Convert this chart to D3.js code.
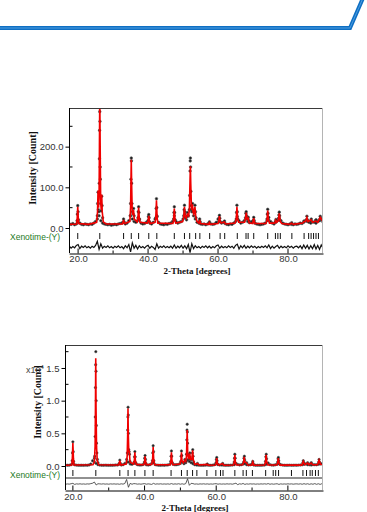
<!DOCTYPE html>
<html>
<head>
<meta charset="utf-8">
<script src="https://cdn.jsdelivr.net/npm/d3@7"></script>
<style>
  body { margin: 0; background: #fff; }
  svg { display: block; }
</style>
</head>
<body>
<div id="container"></div>
<script>
// ---- chart values ----
const phaseName = "Xenotime-(Y)";
const xTicks = [20, 40, 60, 80];
const xMinorTicks = [30, 50, 70, 90];
const topYTicks = [0, 100, 200];
const topYMinor = [50, 150, 250];
const botYTicks = [0, 0.5, 1.0, 1.5];
const botYMinor = [0.25, 0.75, 1.25, 1.75];

// background counts and difference are on a regular 2-theta grid
const gridStart = 17.5;
const gridStep = 0.5;

// top pattern, counts
const topBg = [
  10, 9, 11, 8, 10, 14, 12, 9, 8, 10,
  9, 8, 10, 9, 12, 16, 22, 30, 18, 12,
  10, 9, 8, 9, 7, 8, 9, 8, 10, 11,
  12, 15, 10, 12, 18, 30, 22, 16, 14, 18,
  20, 12, 10, 11, 14, 18, 12, 10, 14, 22,
  30, 14, 10, 9, 8, 10, 9, 11, 12, 16,
  30, 16, 12, 14, 16, 22, 34, 20, 30, 45,
  40, 30, 22, 14, 12, 10, 9, 10, 8, 10,
  12, 10, 9, 10, 14, 22, 16, 12, 14, 11,
  9, 8, 10, 9, 12, 16, 28, 18, 12, 14,
  18, 22, 16, 13, 15, 18, 12, 10, 9, 8,
  9, 10, 12, 18, 26, 16, 12, 10, 14, 18,
  24, 18, 12, 10, 9, 8, 10, 9, 8, 10,
  9, 10, 12, 11, 14, 18, 16, 14, 12, 15,
  14, 12, 16, 18, 20, 15
];
const topPeaks = [
  [19.7, 18], [19.8, 34], [19.9, 55], [20.0, 40], [20.1, 20],
  [25.5, 30], [25.6, 60], [25.7, 88], [25.8, 45], [25.95, 40], [26.05, 110], [26.1, 170],
  [26.15, 240], [26.2, 286], [26.25, 262], [26.3, 150], [26.35, 120], [26.45, 60],
  [26.6, 42], [26.75, 78], [26.85, 55], [27.0, 25],
  [32.85, 14], [33.0, 22], [33.15, 15],
  [34.9, 30], [35.0, 60], [35.1, 120], [35.2, 172], [35.25, 165], [35.3, 110], [35.4, 60], [35.5, 40],
  [35.7, 35], [35.85, 48], [36.0, 30],
  [37.1, 25], [37.2, 40], [37.3, 52], [37.4, 38], [37.55, 22],
  [40.0, 18], [40.1, 28], [40.2, 33], [40.3, 25], [40.45, 15],
  [42.2, 25], [42.3, 48], [42.4, 72], [42.5, 50], [42.6, 28],
  [47.3, 22], [47.4, 38], [47.5, 52], [47.6, 38], [47.75, 20],
  [50.2, 30], [50.3, 45], [50.4, 56], [50.5, 40], [50.65, 25],
  [51.1, 28], [51.25, 38], [51.4, 30],
  [51.8, 45], [51.9, 80], [52.0, 140], [52.05, 165], [52.1, 172], [52.15, 150], [52.25, 90], [52.35, 55],
  [52.6, 45], [52.7, 60], [52.85, 40],
  [53.25, 38], [53.4, 56], [53.55, 40], [53.7, 25],
  [54.6, 16], [54.75, 22], [54.9, 15],
  [57.4, 12], [57.55, 15],
  [60.2, 16], [60.3, 24], [60.4, 31], [60.5, 24], [60.65, 15],
  [61.7, 14], [61.85, 17],
  [65.2, 22], [65.3, 38], [65.4, 56], [65.5, 40], [65.65, 22],
  [67.85, 25], [67.95, 36], [68.05, 40], [68.15, 30],
  [68.5, 22], [68.65, 26], [68.8, 18],
  [70.05, 18], [70.2, 26], [70.35, 18],
  [74.0, 22], [74.1, 34], [74.2, 46], [74.3, 36], [74.45, 20],
  [76.4, 16], [76.55, 21],
  [77.3, 24], [77.4, 32], [77.5, 39], [77.6, 30], [77.75, 18],
  [81.05, 13], [84.55, 17],
  [85.25, 20], [85.4, 29], [85.55, 20],
  [86.5, 18], [86.65, 22], [87.9, 19], [88.05, 20],
  [89.1, 22], [89.2, 29], [89.35, 24]
];
const topCalc = [
  [17.5, 9], [19.6, 10], [19.75, 25], [19.9, 52], [20.05, 25], [20.2, 11],
  [23, 9], [25.3, 14], [25.55, 40], [25.7, 92], [25.85, 50], [26.0, 80], [26.1, 200],
  [26.2, 330], [26.3, 210], [26.45, 70], [26.6, 45], [26.75, 82], [26.9, 40], [27.2, 15],
  [28, 10], [32.7, 10], [32.85, 14], [33.0, 20], [33.15, 13], [33.4, 11],
  [34.8, 16], [35.0, 50], [35.1, 110], [35.2, 168], [35.3, 110], [35.45, 50], [35.6, 32], [35.85, 44], [36.05, 22],
  [36.9, 15], [37.1, 25], [37.3, 50], [37.5, 24], [37.7, 14],
  [39.8, 12], [40.0, 17], [40.2, 30], [40.4, 16], [40.6, 11],
  [42.0, 14], [42.2, 24], [42.4, 68], [42.6, 24], [42.8, 12],
  [47.1, 11], [47.3, 20], [47.5, 48], [47.7, 20], [47.9, 12],
  [49.9, 16], [50.2, 28], [50.4, 52], [50.6, 28], [50.9, 24], [51.25, 34], [51.6, 30], [51.8, 45],
  [52.0, 120], [52.1, 152], [52.2, 110], [52.4, 50], [52.55, 45], [52.7, 58], [52.85, 40], [53.05, 35],
  [53.4, 52], [53.65, 26], [54.0, 16],
  [54.5, 12], [54.75, 20], [55.0, 11],
  [57.3, 9], [57.5, 13], [57.7, 9],
  [60.0, 11], [60.2, 16], [60.4, 29], [60.6, 16], [60.9, 12], [61.8, 15], [62.1, 10],
  [64.9, 12], [65.2, 22], [65.4, 52], [65.6, 22], [65.9, 14],
  [67.6, 14], [67.85, 24], [68.05, 38], [68.3, 22], [68.6, 24], [68.9, 13],
  [69.9, 11], [70.2, 24], [70.5, 11],
  [73.7, 11], [74.0, 20], [74.2, 43], [74.4, 20], [74.7, 12],
  [76.2, 12], [76.5, 19], [76.8, 14], [77.2, 18], [77.5, 36], [77.8, 16], [78.2, 11],
  [80.5, 9], [81.0, 12], [81.5, 9],
  [84.2, 12], [84.55, 16], [85.0, 16], [85.4, 26], [85.7, 16], [86.6, 20], [87.0, 14],
  [88.0, 17], [88.5, 14], [89.2, 26], [90, 16]
];
const topHkl = [19.9, 26.2, 33.0, 35.2, 37.3, 40.2, 42.5, 47.5, 50.4, 51.9, 53.6, 54.8, 57.6,
  60.6, 61.9, 65.5, 68.0, 68.6, 70.2, 74.2, 76.4, 77.1, 77.8, 81.1, 84.6, 85.9, 86.6, 87.3, 88.0, 88.7];
const topDiff = [
  2, -3, 1, -2, 4, 6, -4, 2, -1, 3,
  -2, 1, -3, 2, -1, 4, 14, -6, 8, -3,
  2, -1, 3, -2, 1, -3, 2, -1, 3, -2,
  1, -4, 3, -2, 6, -12, 10, -3, 4, -5,
  3, -2, 1, -3, 2, 4, -3, 2, -1, -6,
  8, -3, 2, -1, 3, -2, 1, -2, 2, -3,
  5, -3, 2, -2, 4, -3, 3, -4, 6, -14,
  8, -4, 3, -2, 1, -3, 2, -1, 3, -2,
  2, -3, 1, -2, 3, 5, -3, 2, -2, 1,
  -2, 3, -1, 2, -3, 4, 7, -5, 3, -2,
  4, -3, 2, -2, 3, -1, 2, -3, 1, -2,
  2, -1, 3, -2, 5, -4, 2, -3, 1, 4,
  -3, 2, -2, 1, -2, 3, -1, 2, -3, 1,
  2, -2, 3, -4, 5, -3, 4, -5, 3, -4,
  6, -5, 4, -6, 5, -3
];

// bottom pattern, counts x10^4
const botBg = [
  .012, .014, .011, .013, .02, .04, .018, .013, .012, .011,
  .012, .01, .013, .012, .016, .03, .08, .12, .04, .02,
  .014, .012, .011, .013, .012, .01, .012, .011, .013, .015,
  .016, .03, .015, .02, .04, .1, .06, .03, .025, .04,
  .04, .02, .015, .014, .02, .04, .018, .014, .02, .04,
  .05, .02, .014, .012, .011, .013, .012, .014, .016, .025,
  .05, .025, .018, .02, .025, .04, .06, .035, .05, .09,
  .07, .05, .035, .02, .015, .013, .012, .011, .012, .013,
  .015, .012, .011, .013, .02, .035, .02, .014, .016, .013,
  .011, .012, .011, .013, .015, .02, .04, .025, .016, .02,
  .03, .035, .02, .016, .018, .025, .014, .012, .011, .012,
  .012, .013, .015, .025, .045, .02, .014, .013, .018, .025,
  .04, .02, .014, .012, .011, .012, .013, .011, .012, .013,
  .012, .014, .016, .018, .025, .03, .02, .018, .015, .02,
  .02, .018, .025, .03, .035, .02
];
const botPeaks = [
  [19.8, .08], [19.9, .2], [20.0, .37], [20.1, .22], [20.2, .07],
  [26.0, .06], [26.1, .15], [26.2, .45], [26.25, .75], [26.3, 1.2], [26.35, 1.55], [26.4, 1.75],
  [26.45, 1.45], [26.5, 1.0], [26.55, .62], [26.6, .35], [26.7, .2], [26.85, .1], [27.0, .05],
  [32.95, .04], [33.1, .09], [33.25, .04],
  [35.1, .06], [35.2, .2], [35.3, .55], [35.35, .75], [35.4, .9], [35.45, .78], [35.5, .5],
  [35.6, .25], [35.7, .22], [35.8, .18], [35.95, .07],
  [37.1, .06], [37.2, .14], [37.3, .22], [37.4, .14], [37.55, .05],
  [39.95, .06], [40.05, .12], [40.15, .16], [40.25, .1], [40.4, .04],
  [42.2, .08], [42.3, .2], [42.4, .31], [42.5, .22], [42.6, .08],
  [47.3, .07], [47.4, .15], [47.5, .23], [47.6, .15], [47.75, .05],
  [50.1, .07], [50.2, .15], [50.3, .23], [50.4, .16], [50.55, .06],
  [51.1, .06], [51.25, .1], [51.4, .06],
  [51.6, .07], [51.7, .18], [51.8, .4], [51.85, .55], [51.9, .64], [51.95, .52], [52.0, .35], [52.1, .18], [52.25, .1],
  [52.5, .12], [52.65, .2], [52.8, .1],
  [53.25, .1], [53.35, .2], [53.45, .25], [53.55, .15], [53.7, .06],
  [54.75, .04], [57.5, .03],
  [59.95, .05], [60.05, .1], [60.15, .13], [60.25, .08], [60.4, .03],
  [61.8, .04],
  [65.0, .06], [65.1, .12], [65.2, .18], [65.3, .12], [65.45, .04],
  [67.65, .06], [67.75, .12], [67.85, .15], [67.95, .09], [68.1, .04], [68.5, .05],
  [70.1, .04], [70.2, .07], [70.3, .04],
  [73.75, .07], [73.85, .14], [73.95, .18], [74.05, .11], [74.2, .04],
  [77.15, .06], [77.25, .11], [77.35, .13], [77.45, .08], [77.6, .03],
  [84.2, .05], [84.3, .08], [84.45, .05], [85.5, .05], [86.4, .04], [86.55, .05],
  [88.6, .06], [88.7, .1], [88.8, .06]
];
const botCalc = [
  [17.5, .012], [19.7, .015], [19.85, .12], [20.0, .35], [20.15, .12], [20.3, .015],
  [25.6, .02], [26.0, .06], [26.2, .3], [26.3, .9], [26.38, 1.65], [26.46, .9], [26.6, .3], [26.8, .08], [27.2, .02],
  [32.8, .015], [33.1, .08], [33.4, .015],
  [34.9, .03], [35.15, .15], [35.3, .5], [35.38, .88], [35.46, .5], [35.6, .22], [35.75, .22], [35.95, .06],
  [36.9, .03], [37.15, .08], [37.3, .21], [37.45, .08], [37.7, .025],
  [39.8, .02], [40.0, .06], [40.15, .15], [40.3, .06], [40.5, .02],
  [42.0, .025], [42.25, .1], [42.4, .29], [42.55, .1], [42.8, .02],
  [47.2, .02], [47.35, .08], [47.5, .21], [47.65, .08], [47.9, .02],
  [49.9, .03], [50.15, .08], [50.3, .21], [50.45, .08], [50.8, .05], [51.25, .09], [51.5, .07],
  [51.7, .15], [51.9, .55], [52.05, .18], [52.3, .1], [52.62, .19], [52.85, .1], [53.2, .1],
  [53.42, .24], [53.6, .1], [54.0, .025],
  [54.8, .035], [55.2, .015], [57.5, .025], [57.8, .012],
  [59.8, .015], [60.0, .05], [60.13, .12], [60.3, .05], [60.6, .015], [61.8, .035], [62.1, .012],
  [64.8, .015], [65.05, .06], [65.2, .17], [65.35, .06], [65.6, .016],
  [67.4, .02], [67.65, .06], [67.8, .14], [67.98, .06], [68.5, .045], [68.8, .015],
  [69.9, .012], [70.2, .06], [70.5, .012],
  [73.5, .015], [73.75, .06], [73.92, .17], [74.1, .06], [74.4, .015],
  [76.9, .015], [77.15, .05], [77.32, .12], [77.5, .05], [77.8, .013],
  [83.9, .013], [84.3, .07], [84.7, .02], [85.5, .045], [85.8, .02], [86.5, .045], [86.9, .02],
  [88.3, .02], [88.7, .09], [89.1, .025], [90, .02]
];
const botHkl = [20.0, 26.4, 33.1, 35.4, 37.3, 40.1, 42.4, 47.4, 50.3, 51.9, 53.4, 54.6, 57.4,
  59.9, 61.2, 61.9, 65.2, 67.5, 68.4, 70.1, 73.8, 75.9, 76.6, 77.4, 81.0, 84.2, 85.2, 86.2, 86.8, 87.7, 88.5];
const botDiff = [
  .002, -.003, .001, -.002, .004, .01, -.006, .002, -.001, .003,
  -.002, .001, -.003, .002, -.001, .006, .012, .03, -.015, .004,
  .002, -.001, .003, -.002, .001, -.003, .002, -.001, .002, -.002,
  .001, -.004, .003, -.002, .008, .07, -.05, .01, -.004, .006,
  .004, -.002, .001, -.003, .002, .006, -.003, .002, -.001, -.006,
  .01, -.003, .002, -.001, .003, -.002, .001, -.002, .002, -.003,
  .006, -.003, .002, -.002, .004, -.003, .003, -.004, .006, .08,
  -.02, .01, .006, -.002, .001, -.003, .002, -.001, .003, -.002,
  .002, -.003, .001, -.002, .003, .005, -.003, .002, -.002, .001,
  -.002, .003, -.001, .002, -.003, .004, .012, -.01, .003, -.002,
  .008, -.006, .002, -.002, .003, -.001, .002, -.003, .001, -.002,
  .002, -.001, .003, -.002, .006, -.004, .002, -.003, .001, .004,
  -.006, .002, -.002, .001, -.002, .003, -.001, .002, -.003, .001,
  .002, -.002, .003, -.004, .005, -.003, .004, -.005, .003, -.004,
  .006, -.005, .004, -.006, .005, -.003
];

const width = 367;
const height = 512;
const sansFont = "'Liberation Sans', Arial, sans-serif";
const serifFont = "'Liberation Serif', 'Times New Roman', serif";

const svg = d3.select("#container")
  .append("svg")
  .attr("width", width)
  .attr("height", height);

// blue header rule with the slanted end
function drawHeader() {
  const path = d3.path();
  path.moveTo(0, 28);
  path.lineTo(350, 28);
  path.lineTo(363, -2);
  svg.append("path")
    .attr("d", path.toString())
    .attr("fill", "none")
    .attr("stroke", "#0f6fc3")
    .attr("stroke-width", 4);
  svg.append("path")
    .attr("d", path.toString())
    .attr("fill", "none")
    .attr("stroke", "#5aa8e8")
    .attr("stroke-width", 0.8);
}

function gridPairs(values) {
  return values.map((v, i) => [gridStart + i * gridStep, v]);
}

/**
 * One refinement panel: observed dots, calculated line, reflection ticks and difference.
 */
function drawPanel(id, cfg, data) {
  const g = svg.append("g");

  const x = d3.scaleLinear().domain(cfg.xDomain).range([cfg.left, cfg.right]);
  const y = d3.scaleLinear().domain([0, cfg.yMax]).range([cfg.base, cfg.top]);

  g.append("clipPath").attr("id", id + "-clip")
    .append("rect")
    .attr("x", cfg.left).attr("y", cfg.top)
    .attr("width", cfg.right - cfg.left).attr("height", cfg.base + 3 - cfg.top);
  g.append("clipPath").attr("id", id + "-clipx")
    .append("rect")
    .attr("x", cfg.left).attr("y", cfg.top)
    .attr("width", cfg.right - cfg.left).attr("height", cfg.axisY - cfg.top);

  // observed points
  const obs = gridPairs(data.bg).concat(data.peaks);
  g.append("g")
    .attr("clip-path", `url(#${id}-clip)`)
    .selectAll("circle")
    .data(obs)
    .join("circle")
      .attr("cx", d => x(d[0]))
      .attr("cy", d => y(d[1]))
      .attr("r", cfg.dotR)
      .attr("fill", "#1a1a1a")
      .attr("stroke", "#555")
      .attr("stroke-width", 0.6);

  // calculated profile
  g.append("path")
    .datum(data.calc)
    .attr("clip-path", `url(#${id}-clip)`)
    .attr("d", d3.line().x(d => x(d[0])).y(d => y(d[1])))
    .attr("fill", "none")
    .attr("stroke", "#f00000")
    .attr("stroke-width", 1.6);

  // reflection markers
  g.append("g")
    .selectAll("line")
    .data(data.hkl)
    .join("line")
      .attr("x1", d => x(d)).attr("x2", d => x(d))
      .attr("y1", cfg.hklY).attr("y2", cfg.hklY + 6)
      .attr("stroke", "#111")
      .attr("stroke-width", 1);

  // difference curve, same vertical scale as the pattern
  const px = y(0) - y(1);
  g.append("path")
    .datum(gridPairs(data.diff))
    .attr("clip-path", `url(#${id}-clipx)`)
    .attr("d", d3.line().x(d => x(d[0])).y(d => cfg.diffY - d[1] * px))
    .attr("fill", "none")
    .attr("stroke", cfg.diffColor)
    .attr("stroke-width", cfg.diffWidth);

  if (cfg.sepY) {
    g.append("line")
      .attr("x1", cfg.left).attr("x2", cfg.right)
      .attr("y1", cfg.sepY).attr("y2", cfg.sepY)
      .attr("stroke", "#222").attr("stroke-width", 1);
  }

  // frame
  g.append("line")
    .attr("x1", cfg.left).attr("x2", cfg.right)
    .attr("y1", cfg.top + 0.5).attr("y2", cfg.top + 0.5)
    .attr("stroke", "#3a3a3a").attr("stroke-width", 1);
  g.append("line")
    .attr("x1", cfg.right - 0.5).attr("x2", cfg.right - 0.5)
    .attr("y1", cfg.top).attr("y2", cfg.axisY)
    .attr("stroke", "#b4b4b4").attr("stroke-width", 1);

  // y axis: major ticks outward, minor ticks inward
  const yAxis = g.append("g").attr("transform", `translate(${cfg.left + 0.5},0)`);
  yAxis.call(d3.axisLeft(y).tickValues(cfg.yTicks).tickFormat(d3.format(".1f")).tickSize(4).tickPadding(2));
  yAxis.select(".domain").attr("d", `M0,${cfg.top}V${cfg.axisY}`).attr("stroke", "#000");
  yAxis.selectAll("text")
    .attr("font-family", sansFont).attr("font-size", 9.5).attr("fill", "#333");
  yAxis.selectAll(".minor")
    .data(cfg.yMinor)
    .join("line")
      .attr("class", "minor")
      .attr("x1", 0).attr("x2", 3)
      .attr("y1", d => y(d)).attr("y2", d => y(d))
      .attr("stroke", "#000");

  // x axis at the bottom of the difference band, ticks point up
  const xAxis = g.append("g").attr("transform", `translate(0,${cfg.axisY + 0.5})`);
  xAxis.call(d3.axisBottom(x).tickValues(xTicks).tickFormat(d3.format(".1f")).tickSize(0).tickPadding(cfg.xPad));
  xAxis.select(".domain").attr("stroke", "#000");
  xAxis.selectAll("text")
    .attr("font-family", sansFont).attr("font-size", 9.5).attr("fill", "#333");
  xAxis.selectAll(".up")
    .data(xTicks.concat(xMinorTicks).filter(d => d < cfg.xDomain[1]))
    .join("line")
      .attr("class", "up")
      .attr("x1", d => x(d)).attr("x2", d => x(d))
      .attr("y1", 0).attr("y2", d => xTicks.includes(d) ? -5 : -3)
      .attr("stroke", "#000");

  // titles
  g.append("text")
    .attr("transform", `translate(${cfg.yLabelX},${cfg.yLabelY}) rotate(-90)`)
    .attr("text-anchor", "middle")
    .attr("font-family", serifFont).attr("font-weight", "bold").attr("font-size", 10)
    .attr("fill", "#111")
    .text("Intensity [Count]");
  g.append("text")
    .attr("x", (cfg.left + cfg.right) / 2 + 1)
    .attr("y", cfg.xLabelY)
    .attr("text-anchor", "middle")
    .attr("font-family", serifFont).attr("font-weight", "bold").attr("font-size", 9)
    .attr("fill", "#111")
    .text("2-Theta [degrees]");
  g.append("text")
    .attr("x", 10)
    .attr("y", cfg.phaseY)
    .attr("font-family", sansFont).attr("font-size", 8.5)
    .attr("fill", "#1d7a1d")
    .text(phaseName);

  return g;
}

drawHeader();

drawPanel("top", {
  left: 69, right: 323, top: 108, base: 228, yMax: 295,
  xDomain: [17.4, 90.0],
  hklY: 233, diffY: 247, axisY: 253, xPad: 2,
  diffColor: "#111", diffWidth: 1.2, dotR: 1.3,
  yTicks: topYTicks, yMinor: topYMinor,
  yLabelX: 36, yLabelY: 168, xLabelY: 274, phaseY: 240
}, { bg: topBg, peaks: topPeaks, calc: topCalc, hkl: topHkl, diff: topDiff });

const bottom = drawPanel("bot", {
  left: 65, right: 323, top: 345, base: 466, yMax: 1.852,
  xDomain: [17.8, 89.8],
  hklY: 470, diffY: 484, axisY: 490, sepY: 478, xPad: 3,
  diffColor: "#333", diffWidth: 0.8, dotR: 1.2,
  yTicks: botYTicks, yMinor: botYMinor,
  yLabelX: 41, yLabelY: 402, xLabelY: 511, phaseY: 478
}, { bg: botBg, peaks: botPeaks, calc: botCalc, hkl: botHkl, diff: botDiff });

// x10^4 multiplier for the lower panel
const mult = bottom.append("text")
  .attr("x", 26).attr("y", 373)
  .attr("font-family", sansFont).attr("font-size", 9)
  .attr("fill", "#444");
mult.append("tspan").text("x10");
mult.append("tspan").attr("dy", -4).attr("font-size", 6).text("4");
</script>
</body>
</html>
